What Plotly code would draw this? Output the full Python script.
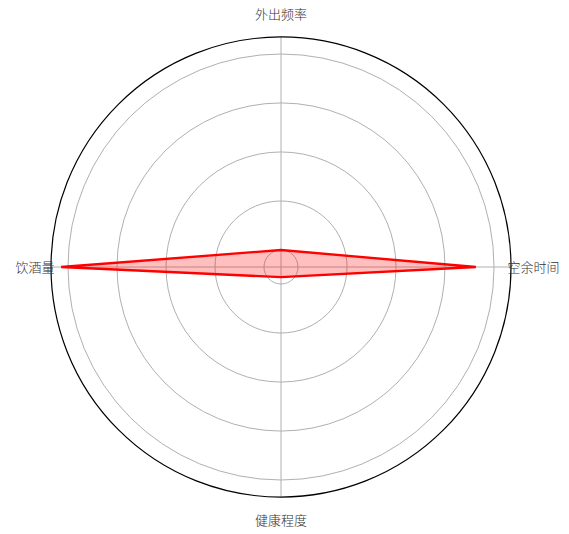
import plotly.graph_objects as go

categories = ["空余时间", "外出频率", "饮酒量", "健康程度"]
values = [4.63, 1.0, 5.14, 0.86]
radial_ticks = [1, 2, 3, 4, 5]
radial_range = [0.653, 5.347]
vertical_labels = ["外出频率", "健康程度"]
horizontal_labels = ["空余时间", "饮酒量"]

theta = categories + categories[:1]
r = values + values[:1]

fig = go.Figure()
fig.add_trace(go.Scatterpolar(
    r=r, theta=theta, mode="lines", fill="toself",
    fillcolor="rgba(255,0,0,0.25)",
    line=dict(color="#ff0000", width=2.3),
    hoverinfo="skip", showlegend=False, subplot="polar",
))
# empty trace only to host the second (label) polar subplot
fig.add_trace(go.Scatterpolar(r=[None], theta=[categories[0]], mode="lines",
                              hoverinfo="skip", showlegend=False, subplot="polar2"))

W, H = 569, 534
cx, cy, R = 281, 267, 230
R2 = R - 4
label_font = dict(family="Noto Sans CJK SC", size=13, color="#333333", weight=300)

fig.update_layout(
    width=W, height=H,
    margin=dict(l=0, r=0, t=0, b=0),
    paper_bgcolor="white",
    font=dict(family="Noto Sans CJK SC", size=13, color="#333333"),
    polar2=dict(
        domain=dict(x=[(cx - R2) / W, (cx + R2) / W], y=[(H - cy - R2) / H, (H - cy + R2) / H]),
        bgcolor="rgba(0,0,0,0)",
        radialaxis=dict(range=radial_range, visible=False, showgrid=False),
        angularaxis=dict(
            type="category", categoryarray=categories, direction="counterclockwise", rotation=0,
            tickmode="array", tickvals=horizontal_labels,
            showline=False, showgrid=False, ticks="", tickfont=label_font,
        ),
    ),
    polar=dict(
        domain=dict(x=[(cx - R) / W, (cx + R) / W], y=[(H - cy - R) / H, (H - cy + R) / H]),
        bgcolor="rgba(0,0,0,0)",
        radialaxis=dict(
            range=radial_range, tickvals=radial_ticks, showticklabels=False,
            ticks="", showline=False, gridcolor="#b0b0b0", gridwidth=1,
        ),
        angularaxis=dict(
            type="category", categoryarray=categories, direction="counterclockwise", rotation=0,
            showline=True, linecolor="black", linewidth=1.2,
            gridcolor="#b0b0b0", gridwidth=1,
            tickmode="array", tickvals=categories,
            ticktext=[c if c in vertical_labels else "" for c in categories],
            ticks="outside", ticklen=12, tickcolor="rgba(0,0,0,0)",
            tickfont=label_font,
        ),
    ),
)

fig.write_html("out.html", config={"displayModeBar": False},
               post_script="document.body.style.margin='0';")
